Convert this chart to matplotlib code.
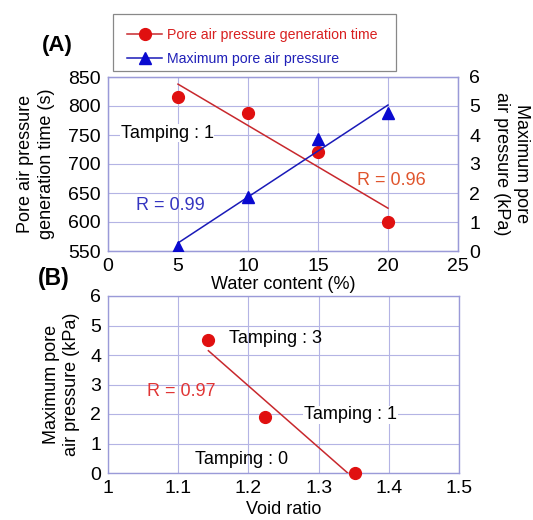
import numpy as np
import matplotlib
matplotlib.use("Agg")
import matplotlib.pyplot as plt
from matplotlib.lines import Line2D
from matplotlib.patches import Rectangle

plt.rcParams['font.family'] = ['Liberation Sans', 'DejaVu Sans']

# Panel A data
water_content = [5, 10, 15, 20]
gen_time = [815, 788, 720, 600]
max_pressure_a = [0.15, 1.85, 3.85, 4.77]
# Panel B data
void_ratio = [1.143, 1.223, 1.352]
max_pressure_b = [4.5, 1.9, 0.0]

red_m = '#e01010'
red_l = '#c8282d'
blue_m = '#0a0ad0'
blue_l = '#1a1ab8'
spine_c = '#9a9ad8'
grid_c = '#b4b4e4'

W, H = 533, 520
fig = plt.figure(figsize=(W / 100, H / 100), dpi=100)

def style(ax):
    for s in ax.spines.values():
        s.set_color(spine_c)
        s.set_linewidth(1.0)
    ax.tick_params(length=0, labelsize=14, pad=5)
    ax.grid(True, color=grid_c, linewidth=0.8)
    ax.set_axisbelow(True)

# ---------- Panel A ----------
axA = fig.add_axes([108 / W, 1 - 251 / H, 350 / W, 174 / H])
style(axA)
axA.set_xlim(0, 25)
axA.set_ylim(550, 850)
axA.set_xticks([0, 5, 10, 15, 20, 25])
axA.set_yticks(np.arange(550, 851, 50))
axA.set_xlabel('Water content (%)', fontsize=13, labelpad=1)
axA.set_ylabel('Pore air pressure\ngeneration time (s)', fontsize=13, labelpad=10, linespacing=1.3)

axB2 = axA.twinx()
for s in axB2.spines.values():
    s.set_color(spine_c)
axB2.tick_params(length=0, labelsize=14, pad=8)
axB2.set_ylim(0, 6)
axB2.set_yticks(range(0, 7))
axB2.set_ylabel('Maximum pore\nair pressure (kPa)', fontsize=13, rotation=270,
                labelpad=36, linespacing=1.25)

xa = np.array(water_content, float)
pr = np.polyfit(xa, gen_time, 1)
pb = np.polyfit(xa, max_pressure_a, 1)
xfit = np.array([xa.min(), xa.max()])

axA.plot(xfit, np.polyval(pr, xfit), color=red_l, lw=1.1, zorder=3)
axA.plot(xa, gen_time, 'o', color=red_m, ms=8.5, zorder=4)
axB2.plot(xfit, np.polyval(pb, xfit), color=blue_l, lw=1.1, zorder=3)
axB2.plot(xa, max_pressure_a, '^', color=blue_m, ms=8, zorder=4)

axA.text(0.9, 753, 'Tamping : 1', fontsize=13, va='center', ha='left', zorder=2,
         bbox=dict(facecolor='white', edgecolor='none', pad=0.5))
axA.text(17.8, 672, 'R = 0.96', fontsize=13, color='#e0552d', va='center', ha='left')
axA.text(2.0, 628, 'R = 0.99', fontsize=13, color='#3535c0', va='center', ha='left')

# Legend (box drawn separately)
handles = [Line2D([], [], color=red_l, marker='o', mfc=red_m, mec=red_m, ms=8.5, lw=1.1),
           Line2D([], [], color=blue_l, marker='^', mfc=blue_m, mec=blue_m, ms=8, lw=1.1)]
leg = fig.legend(handles, ['Pore air pressure generation time', 'Maximum pore air pressure'],
                 loc='center left', bbox_to_anchor=(127 / W, 1 - 47 / H), fontsize=10.2,
                 frameon=False, handlelength=2.5, borderpad=0,
                 labelspacing=0.75, handletextpad=0.3, borderaxespad=0)
for t, c in zip(leg.get_texts(), ['#d82020', '#2020b8']):
    t.set_color(c)
fig.patches.append(Rectangle((113 / W, 1 - 71 / H), (396 - 113) / W, (71 - 14) / H,
                             transform=fig.transFigure, fill=False,
                             edgecolor='#888888', linewidth=0.9))

fig.text(57 / W, 1 - 45 / H, '(A)', fontsize=16, fontweight='bold', ha='center', va='center')
fig.text(54 / W, 1 - 279 / H, '(B)', fontsize=16.5, fontweight='bold', ha='center', va='center')

# ---------- Panel B ----------
axB = fig.add_axes([108 / W, 1 - 473 / H, 351 / W, 177 / H])
style(axB)
axB.set_xlim(1, 1.5)
axB.set_ylim(0, 6)
axB.set_xticks([1, 1.1, 1.2, 1.3, 1.4, 1.5])
axB.set_xticklabels(['1', '1.1', '1.2', '1.3', '1.4', '1.5'])
axB.set_yticks(range(0, 7))
axB.set_xlabel('Void ratio', fontsize=13, labelpad=3)
axB.set_ylabel('Maximum pore\nair pressure (kPa)', fontsize=13, labelpad=7, linespacing=1.25)

xb = np.array(void_ratio, float)
pv = np.polyfit(xb, max_pressure_b, 1)
xfb = np.array([xb.min(), xb.max()])
axB.plot(xfb, np.polyval(pv, xfb), color=red_l, lw=1.1, zorder=3)
axB.plot(xb, max_pressure_b, 'o', color=red_m, ms=8.5, zorder=4, clip_on=False)

axB.text(1.172, 4.57, 'Tamping : 3', fontsize=13, va='center', ha='left')
axB.text(1.279, 1.97, 'Tamping : 1', fontsize=13, va='center', ha='left', zorder=2,
         bbox=dict(facecolor='white', edgecolor='none', pad=0.5))
axB.text(1.124, 0.46, 'Tamping : 0', fontsize=13, va='center', ha='left')
axB.text(1.056, 2.75, 'R = 0.97', fontsize=13, color='#e03535', va='center', ha='left')

fig.savefig('out.png', dpi=100)
